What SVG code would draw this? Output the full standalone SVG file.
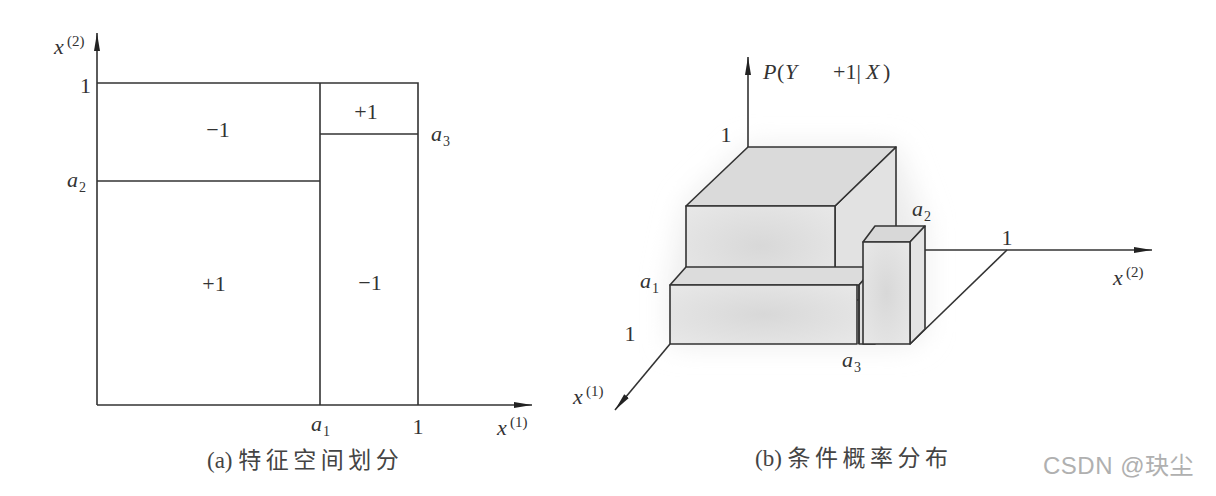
<svg xmlns="http://www.w3.org/2000/svg" width="1216" height="496" viewBox="0 0 1216 496">
<style>
.ln{stroke:#333;stroke-width:1.6;fill:none}
.face{stroke:#333;stroke-width:1.6;stroke-linejoin:round}
.t{font-family:"Liberation Serif",serif;fill:#333}
.i{font-style:italic}
.cap{font-family:"Liberation Serif","Noto Sans CJK SC",serif;fill:#444;font-size:23px}
.zh{letter-spacing:4.5px}
.wm{font-family:"Liberation Sans","Noto Sans CJK SC",sans-serif;fill:#b0b0b0;font-size:24px;letter-spacing:0.5px}
</style>
<defs>
<marker id="ar" markerWidth="20" markerHeight="8" refX="18" refY="4" orient="auto" markerUnits="userSpaceOnUse">
<path d="M0,1 L18,4 L0,7 Z" fill="#222"/>
</marker>
<radialGradient id="g" cx="0.5" cy="0.5" r="0.7">
<stop offset="0" stop-color="#d8d8d8"/>
<stop offset="1" stop-color="#e8e8e8"/>
</radialGradient>
<filter id="blur" x="-20%" y="-20%" width="140%" height="140%"><feGaussianBlur stdDeviation="14"/></filter>
</defs>
<rect width="1216" height="496" fill="#fff"/>
<polygon points="686,206 748,147 896,147 925,226 925,330 910,344 670,344 670,285" fill="#ececec" filter="url(#blur)"/>

<g id="connectors">
<line class="ln" x1="97" y1="405" x2="97" y2="33" marker-end="url(#ar)"/>
<line class="ln" x1="97" y1="405" x2="532" y2="405" marker-end="url(#ar)"/>
<line class="ln" x1="748" y1="147" x2="748" y2="57" marker-end="url(#ar)"/>
<line class="ln" x1="925" y1="250" x2="1152" y2="250" marker-end="url(#ar)"/>
<line class="ln" x1="670" y1="344" x2="615" y2="410" marker-end="url(#ar)"/>
<line class="ln" x1="1007" y1="250" x2="910" y2="344"/>
</g>

<g id="partition">
<polyline class="ln" points="97,83 418,83 418,405"/>
<line class="ln" x1="320" y1="83" x2="320" y2="405"/>
<line class="ln" x1="320" y1="134" x2="418" y2="134"/>
<line class="ln" x1="97" y1="181" x2="320" y2="181"/>
</g>
<g id="left-labels" class="t">
<text x="54" y="54" font-size="22" class="i">x</text><text x="67" y="46" font-size="15">(2)</text>
<text x="80" y="93" font-size="22">1</text>
<text x="67" y="187" font-size="22" class="i">a</text><text x="79" y="192" font-size="14">2</text>
<text x="431" y="141" font-size="22" class="i">a</text><text x="443" y="146" font-size="14">3</text>
<text x="218" y="137" font-size="22" text-anchor="middle">−1</text>
<text x="366" y="119" font-size="22" text-anchor="middle">+1</text>
<text x="214" y="291" font-size="22" text-anchor="middle">+1</text>
<text x="370" y="290" font-size="22" text-anchor="middle">−1</text>
<text x="311" y="431" font-size="22" class="i">a</text><text x="323" y="436" font-size="14">1</text>
<text x="418" y="434" font-size="22" text-anchor="middle">1</text>
<text x="497" y="435" font-size="22" class="i">x</text><text x="510" y="427" font-size="15">(1)</text>
</g>
<text class="cap" x="207" y="468">(a) <tspan class="zh">特征空间划分</tspan></text>

<g id="box-big">
<polygon class="face" points="835,206 896,147 896,300 835,300" fill="#e2e2e2"/>
<polygon class="face" points="686,206 748,147 896,147 835,206" fill="#dadada"/>
<rect class="face" x="686" y="206" width="149" height="80" fill="url(#g)"/>
</g>
<g id="box-a1">
<polygon class="face" points="670,285 686,267 875,267 859,285" fill="#dcdcdc"/>
<polygon class="face" points="859,285 875,267 875,344 859,344" fill="#e0e0e0"/>
<rect class="face" x="670" y="285" width="187" height="59" fill="url(#g)"/>
<line class="ln" x1="859" y1="285" x2="859" y2="344"/>
</g>
<g id="box-a2">
<polygon class="face" points="863,242 875,226 925,226 910,242" fill="#d8d8d8"/>
<polygon class="face" points="910,242 925,226 925,329 910,344" fill="#e4e4e4"/>
<rect class="face" x="863" y="242" width="47" height="102" fill="url(#g)"/>
</g>
<g id="right-labels" class="t">
<text x="763" y="79" font-size="22" class="i">P</text>
<text x="777" y="79" font-size="22">(</text>
<text x="785" y="79" font-size="22" class="i">Y</text>
<text x="833" y="79" font-size="22">+1|</text>
<text x="866" y="79" font-size="22" class="i">X</text>
<text x="883" y="79" font-size="22">)</text>
<text x="726" y="142" font-size="22" text-anchor="middle">1</text>
<text x="640" y="288" font-size="22" class="i">a</text><text x="652" y="293" font-size="14">1</text>
<text x="630" y="341" font-size="22" text-anchor="middle">1</text>
<text x="842" y="367" font-size="22" class="i">a</text><text x="854" y="372" font-size="14">3</text>
<text x="912" y="216" font-size="22" class="i">a</text><text x="924" y="221" font-size="14">2</text>
<text x="1007" y="245" font-size="22" text-anchor="middle">1</text>
<text x="1113" y="285" font-size="22" class="i">x</text><text x="1126" y="277" font-size="15">(2)</text>
<text x="573" y="404" font-size="22" class="i">x</text><text x="586" y="396" font-size="15">(1)</text>
</g>
<text class="cap" x="755" y="466">(b) <tspan class="zh">条件概率分布</tspan></text>
<text class="wm" x="1043" y="474">CSDN @玦尘</text>
</svg>
